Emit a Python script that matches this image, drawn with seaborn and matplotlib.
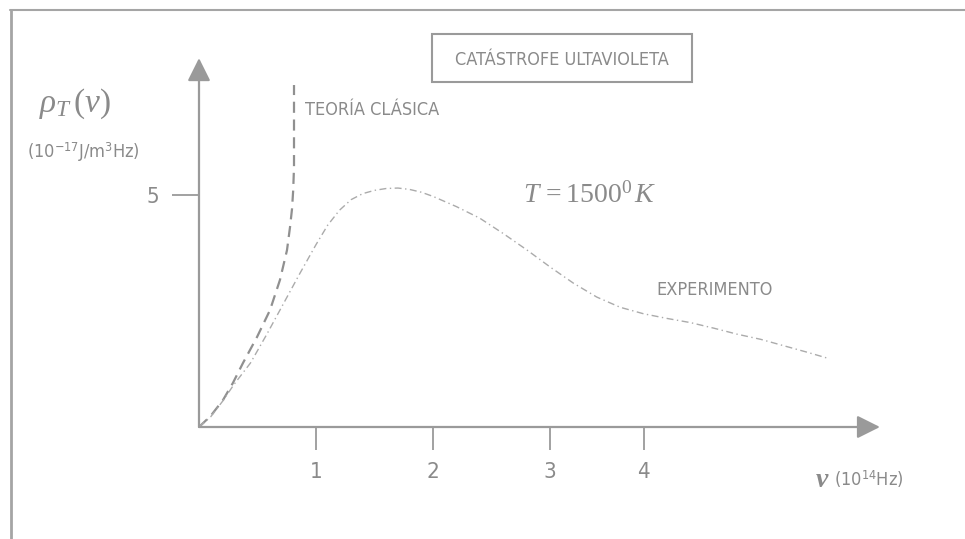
import numpy as np
import pandas as pd
import seaborn as sns
import matplotlib.pyplot as plt
from matplotlib.lines import Line2D
from matplotlib.patches import Rectangle

# Frequency (10^14 Hz) and energy density (10^-17 J/m^3Hz)
nu_exp = [0.0, 0.1, 0.2, 0.3, 0.44, 0.58, 0.72, 0.86, 1.0, 1.1, 1.2, 1.3, 1.4, 1.5,
          1.6, 1.7, 1.8, 1.9, 2.0, 2.2, 2.4, 2.6, 2.8, 3.0, 3.2, 3.4, 3.6, 3.8, 4.0,
          4.2, 4.4, 4.6, 4.8, 5.0, 5.2, 5.39]
rho_exp = [0.0, 0.22, 0.55, 0.92, 1.38, 2.0, 2.65, 3.3, 3.93, 4.35, 4.67, 4.9, 5.03, 5.1,
           5.14, 5.15, 5.12, 5.06, 4.97, 4.75, 4.5, 4.17, 3.82, 3.45, 3.1, 2.8, 2.58, 2.44,
           2.34, 2.25, 2.13, 2.0, 1.89, 1.75, 1.61, 1.47]

nu_cla = [0.0, 0.1, 0.205, 0.29, 0.376, 0.496, 0.607, 0.692, 0.752, 0.778, 0.795, 0.805,
          0.812, 0.812]
rho_cla = [0.0, 0.24, 0.58, 0.95, 1.38, 1.94, 2.52, 3.17, 3.81, 4.31, 4.7, 5.1,
           5.6, 7.37]

x_ticks = [1, 2, 3, 3.8]
x_ticklabels = ["1", "2", "3", "4"]
y_ticks = [5]

df_exp = pd.DataFrame({"nu": nu_exp, "rho": rho_exp})
df_cla = pd.DataFrame({"nu": nu_cla, "rho": rho_cla})

sns.set_theme(style="white")
plt.rcParams["font.family"] = ["DejaVu Sans"]
plt.rcParams["font.stretch"] = "condensed"
plt.rcParams["mathtext.fontset"] = "custom"
plt.rcParams["mathtext.rm"] = "Liberation Serif"
plt.rcParams["mathtext.it"] = "Liberation Serif:italic"
plt.rcParams["mathtext.bf"] = "Liberation Serif:italic:bold"
plt.rcParams["mathtext.sf"] = "DejaVu Sans"

txt = "#8a8a8a"
line = "#9a9a9a"

fig = plt.figure(figsize=(9.65, 5.39), dpi=100)
W, H = 965.0, 539.0
ax = fig.add_axes([199 / W, 112 / H, 702 / W, 371.2 / H])

sns.lineplot(data=df_cla, x="nu", y="rho", ax=ax, sort=False, estimator=None,
             color="#909090", lw=1.6, linestyle=(0, (5, 3)))
sns.lineplot(data=df_exp, x="nu", y="rho", ax=ax, sort=False, estimator=None,
             color="#ababab", lw=1.0, linestyle=(0, (5, 2.5, 1, 2.5)))

ax.set_xlim(0, 6)
ax.set_ylim(0, 8)
for s in ax.spines.values():
    s.set_visible(False)
ax.set_xlabel("")
ax.set_ylabel("")

ax.set_xticks(x_ticks)
ax.set_xticklabels(x_ticklabels)
ax.set_yticks(y_ticks)
ax.set_yticklabels([str(v) for v in y_ticks])
ax.tick_params(axis="x", direction="out", length=16.5, width=1.3, color=line,
               labelcolor=txt, labelsize=16, pad=9, bottom=True)
ax.tick_params(axis="y", direction="out", length=19.5, width=1.3, color=line,
               labelcolor=txt, labelsize=16, pad=9, left=True)

arrow = dict(arrowstyle="-|>,head_length=0.5,head_width=0.25", color=line, lw=1.6,
             mutation_scale=28, shrinkA=0, shrinkB=0)
ax.annotate("", xy=(5.82, 0), xytext=(0, 0), arrowprops=arrow, annotation_clip=False)
ax.annotate("", xy=(0, 7.95), xytext=(0, 0), arrowprops=arrow, annotation_clip=False)

def fx(x):
    return x / W

def fy(y):
    return 1 - y / H

# labels
fig.text(fx(75), fy(104), r"$\rho_T\,(\nu)$", color=txt, fontsize=24, ha="center", va="center")
fig.text(fx(83), fy(152), r"(10$^{\mathsf{-17}}$J/m$^{\mathsf{3}}$Hz)", color=txt, fontsize=13,
         ha="center", va="center")
fig.text(fx(590), fy(195), r"$T\,=1500^{0}\,K$", color=txt, fontsize=20, ha="center", va="center")
fig.text(fx(372), fy(110), "TEORÍA CLÁSICA", color=txt, fontsize=13, ha="center", va="center")
fig.text(fx(715), fy(290), "EXPERIMENTO", color=txt, fontsize=13, ha="center", va="center")
fig.text(fx(822), fy(479), r"$\mathbf{\nu}$", color=txt, fontsize=20, ha="center", va="center")
fig.text(fx(834), fy(479), r"(10$^{\mathsf{14}}$Hz)", color=txt, fontsize=13, ha="left", va="center")

# title box
fig.add_artist(Rectangle((fx(432), fy(82)), (692 - 432) / W, (82 - 34) / H, fill=False,
                         edgecolor="#9a9a9a", lw=1.5, transform=fig.transFigure))
fig.text(fx(562), fy(60), "CATÁSTROFE ULTAVIOLETA", color=txt, fontsize=13,
         ha="center", va="center")

# outer frame (top and left edges)
fig.add_artist(Line2D([fx(10), fx(965)], [fy(10), fy(10)], color="#a5a5a5", lw=1.5,
                      transform=fig.transFigure))
fig.add_artist(Line2D([fx(11), fx(11)], [fy(10), fy(539)], color="#a5a5a5", lw=2,
                      transform=fig.transFigure))

plt.savefig("out.png", dpi=100)
